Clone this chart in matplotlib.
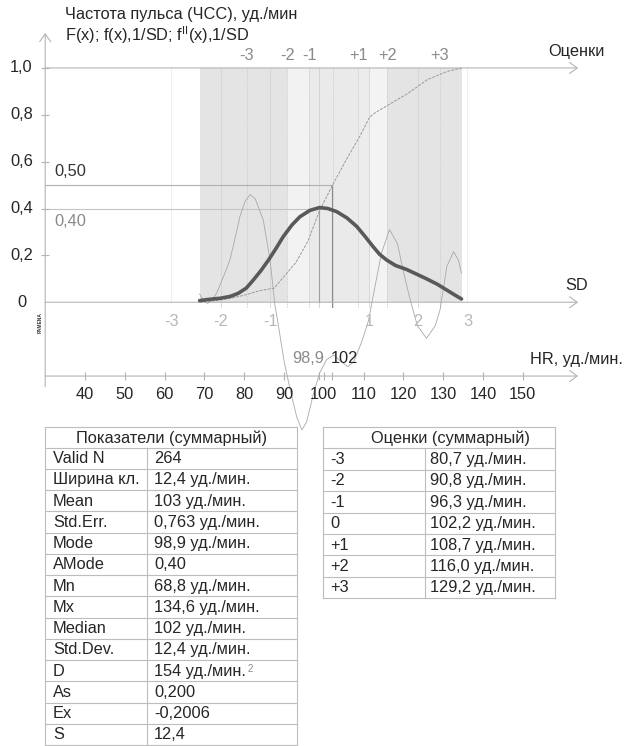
import matplotlib.pyplot as plt

plt.rcParams['font.family'] = ['Liberation Sans', 'DejaVu Sans']
plt.rcParams['mathtext.fontset'] = 'custom'
plt.rcParams['mathtext.rm'] = 'Liberation Sans'
plt.rcParams['mathtext.default'] = 'regular'

# ---- данные ----
hr_ticks = [40, 50, 60, 70, 80, 90, 100, 110, 120, 130, 140, 150]
y_ticks = [0, 0.2, 0.4, 0.6, 0.8, 1.0]
y_tick_labels = ['0', '0,2', '0,4', '0,6', '0,8', '1,0']

mn, mx = 68.8, 134.6
mode, amode = 98.9, 0.40
median = 102
sd = 12.4
score_names = ['-3', '-2', '-1', '0', '+1', '+2', '+3']
score_hr = [80.7, 90.8, 96.3, 102.2, 108.7, 116.0, 129.2]
sd_steps = [-3, -2, -1, 1, 2, 3]

# f(x) - плотность
f_hr = [68.8, 71, 74, 76.5, 78.5, 80.5, 82.3, 84.2, 86.1, 88, 89.8, 92, 94, 96.5,
        98.9, 101, 103.2, 105.8, 108.3, 110.4, 112.4, 114, 115.8, 118, 120.8,
        123.3, 125.8, 128.5, 130.9, 133, 134.6]
f_val = [0.007, 0.012, 0.017, 0.025, 0.038, 0.06, 0.095, 0.135, 0.18, 0.23, 0.28,
         0.33, 0.365, 0.392, 0.404, 0.40, 0.387, 0.36, 0.323, 0.28, 0.237, 0.205,
         0.18, 0.157, 0.14, 0.12, 0.10, 0.077, 0.052, 0.03, 0.014]

# F(x) - накопленная частота
F_hr = [68.8, 72, 76, 80, 84, 87.5, 90, 93, 96, 98.9, 102.2, 105.7, 109.1, 111.5,
        113, 116, 121, 126, 131, 134.6]
F_val = [0.0, 0.005, 0.015, 0.03, 0.05, 0.06, 0.11, 0.17, 0.26, 0.39, 0.5, 0.61,
         0.71, 0.79, 0.81, 0.84, 0.89, 0.95, 0.985, 1.0]

# f''(x)
f2_hr = [68.8, 69.8, 70.8, 72, 73.1, 74.8, 76.4, 77.8, 78.9, 80.2, 81.5, 82.8, 84.8,
         86.5, 87.7, 88.5, 90, 91.5, 93.2, 94.5, 95.7, 97.4, 99, 100.7, 102.5,
         104.5, 106, 107.5, 109.5, 111.2, 113, 114.5, 116.5, 118.5, 120, 121.7,
         123.5, 125.8, 128, 129.2, 130.9, 132.6, 133.8, 134.6]
f2_val = [0.035, 0.005, -0.005, 0.01, 0.04, 0.11, 0.18, 0.28, 0.365, 0.43, 0.46, 0.44,
          0.35, 0.18, -0.01, -0.09, -0.25, -0.37, -0.49, -0.545, -0.51, -0.39, -0.30,
          -0.245, -0.225, -0.255, -0.275, -0.255, -0.17, -0.08, 0.08, 0.21, 0.31,
          0.25, 0.13, 0.01, -0.10, -0.154, -0.10, -0.033, 0.152, 0.216, 0.18, 0.124]

stat_names = ['Valid N', 'Ширина кл.', 'Mean', 'Std.Err.', 'Mode', 'AMode', 'Mn',
              'Mx', 'Median', 'Std.Dev.', 'D', 'As', 'Ex', 'S']
stat_values = ['264', '12,4 уд./мин.', '103 уд./мин.', '0,763 уд./мин.',
               '98,9 уд./мин.', '0,40', '68,8 уд./мин.', '134,6 уд./мин.',
               '102 уд./мин.', '12,4 уд./мин.', '154 уд./мин.', '0,200',
               '-0,2006', '12,4']
score_values = ['80,7 уд./мин.', '90,8 уд./мин.', '96,3 уд./мин.', '102,2 уд./мин.',
                '108,7 уд./мин.', '116,0 уд./мин.', '129,2 уд./мин.']

# ---- рисунок ----
fig = plt.figure(figsize=(6.38, 7.46), dpi=100)
ax = fig.add_axes([0, 0, 1, 1])
ax.set_xlim(18.64, 178.94)
ax.set_ylim(-1.894, 1.290)

txt = '#262626'
axis_c = '#b4b4b4'
fs = 11.8

# полосы оценок
band_edges = [mn, score_hr[1], score_hr[2], score_hr[4], mode + sd, score_hr[5], mx]
band_colors = ['#e4e4e4', '#f2f2f2', '#eaeaea', '#ececec', '#f3f3f3', '#e4e4e4']
for a, b, c in zip(band_edges[:-1], band_edges[1:], band_colors):
    ax.fill_between([a, b], 0, 1.0, color=c, lw=0, zorder=0)

# вертикальные линии
for k in sd_steps:
    x = mode + k * sd
    if mn < x < mx:
        ax.plot([x, x], [-0.02, 1.0], color='#d4d4d4', lw=0.6, zorder=1)
    else:
        ax.plot([x, x], [0, 1.0], color='#ececec', lw=0.6, zorder=1)
for x in score_hr:
    ax.plot([x, x], [-0.02, 1.0], color='#cfcfcf', lw=0.6, ls=(0, (2, 1)), zorder=1)
ax.plot([mode, mode], [-0.02, 1.0], color='#d0d0d0', lw=0.6, zorder=1)
ax.plot([mode, mode], [0, amode], color='#a0a0a0', lw=0.8, zorder=1)
ax.plot([median, median], [-0.02, 0.5], color='#8c8c8c', lw=0.8, zorder=1)
ax.plot([30, median], [0.5, 0.5], color='#b0b0b0', lw=0.8, zorder=1)
ax.plot([30, mode], [amode, amode], color='#c4c4c4', lw=0.8, zorder=1)

# оси со стрелками
arrow = dict(arrowstyle='->,head_length=0.55,head_width=0.4', color=axis_c,
             lw=0.8, shrinkA=0, shrinkB=0, mutation_scale=10)
for yv in [1.0, 0.0, -0.315]:
    ax.annotate('', xy=(163.9, yv), xytext=(30, yv), arrowprops=arrow, zorder=1)
ax.annotate('', xy=(30, 1.149), xytext=(30, -0.36), arrowprops=arrow, zorder=1)

for s in ['top', 'right']:
    ax.spines[s].set_visible(False)
ax.spines['left'].set_position(('data', 30))
ax.spines['bottom'].set_position(('data', -0.315))
ax.spines['left'].set_color('none')
ax.spines['bottom'].set_color('none')
ax.set_xticks(hr_ticks + [mode, median])
ax.set_yticks(y_ticks[1:])
ax.tick_params(direction='inout', length=6, width=0.8, color=axis_c,
               labelbottom=False, labelleft=False)

# кривые
ax.plot(f2_hr, f2_val, color='#a8a8a8', lw=0.6, zorder=3)
ax.plot(F_hr, F_val, color='#9a9a9a', lw=0.7, ls=(0, (3, 1.2)), zorder=3)
ax.plot(f_hr, f_val, color='#595959', lw=2.6, zorder=4, solid_capstyle='round')

# подписи
for v, lab in zip(y_ticks, y_tick_labels):
    ax.text(24.05, v, lab, ha='center', va='center', fontsize=fs, color=txt)
for v in hr_ticks:
    ax.text(v, -0.394, str(v), ha='center', va='center', fontsize=fs, color=txt)
for k in sd_steps:
    ax.text(mode + k * sd, -0.083, str(k), ha='center', va='center',
            fontsize=fs, color='#b8b8b8')
for name, x in zip(score_names, score_hr):
    if name != '0':
        ax.text(x, 1.051, name, ha='center', va='center', fontsize=fs, color='#8a8a8a')

ax.text(35.0, 1.226, 'Частота пульса (ЧСС), уд./мин', ha='left', va='center',
        fontsize=fs, color=txt)
ax.text(35.0, 1.141, r'F(x); f(x),1/SD; f$^{II}$(x),1/SD', ha='left',
        va='center', fontsize=fs, color=txt)
ax.text(156.3, 1.07, 'Оценки', ha='left', va='center', fontsize=fs, color=txt)
ax.text(160.6, 0.07, 'SD', ha='left', va='center', fontsize=fs, color=txt)
ax.text(151.8, -0.246, 'HR, уд./мин.', ha='left', va='center', fontsize=fs, color=txt)
ax.text(32.2, 0.557, '0,50', ha='left', va='center', fontsize=fs, color='#333333')
ax.text(32.2, 0.344, '0,40', ha='left', va='center', fontsize=fs, color='#8a8a8a')
ax.text(100.0, -0.239, '98,9', ha='right', va='center', fontsize=fs, color='#8a8a8a')
ax.text(101.7, -0.239, '102', ha='left', va='center', fontsize=fs, color=txt)
ax.text(28.7, -0.086, 'PAMENA', rotation=90, ha='center', va='center',
        fontsize=3.5, fontweight='bold', color='#333333')

# ---- таблицы ----
tax = fig.add_axes([0, 0, 1, 1])
tax.set_xlim(0, 638)
tax.set_ylim(746, 0)
tax.axis('off')
grid_c = '#bdbdbd'


def draw_table(x0, x1, xdiv, top, head_h, row_h, title, title_x, names, values,
               lab_x, val_x):
    n = len(names)
    bottom = top + head_h + n * row_h
    ys = [top, top + head_h] + [top + head_h + (i + 1) * row_h for i in range(n)]
    for y in ys:
        tax.plot([x0, x1], [y, y], color=grid_c, lw=0.8)
    tax.plot([x0, x0], [top, bottom], color=grid_c, lw=0.8)
    tax.plot([x1, x1], [top, bottom], color=grid_c, lw=0.8)
    tax.plot([xdiv, xdiv], [top + head_h, bottom], color=grid_c, lw=0.8)
    tax.text(title_x, top + head_h / 2 + 0.5, title, ha='center', va='center',
             fontsize=fs, color=txt)
    for i, (nm, vl) in enumerate(zip(names, values)):
        y = top + head_h + (i + 0.5) * row_h + 0.5
        tax.text(lab_x, y, nm, ha='left', va='center', fontsize=fs, color=txt)
        t = tax.text(val_x, y, vl, ha='left', va='center', fontsize=fs, color=txt)
        if nm == 'D':
            tax.annotate('2', xy=(1, 1), xycoords=t, xytext=(1.5, -0.5),
                         textcoords='offset points', ha='left', va='top',
                         fontsize=7, color='#8a8a8a')


draw_table(45, 297, 147, 427, 20.5, 21.25, 'Показатели (суммарный)', 171,
           stat_names, stat_values, 53, 154)
draw_table(323, 555, 425, 427.3, 21, 21.4, 'Оценки (суммарный)', 450,
           score_names, score_values, 330, 430)

fig.savefig('out.png', dpi=100, facecolor='white')
